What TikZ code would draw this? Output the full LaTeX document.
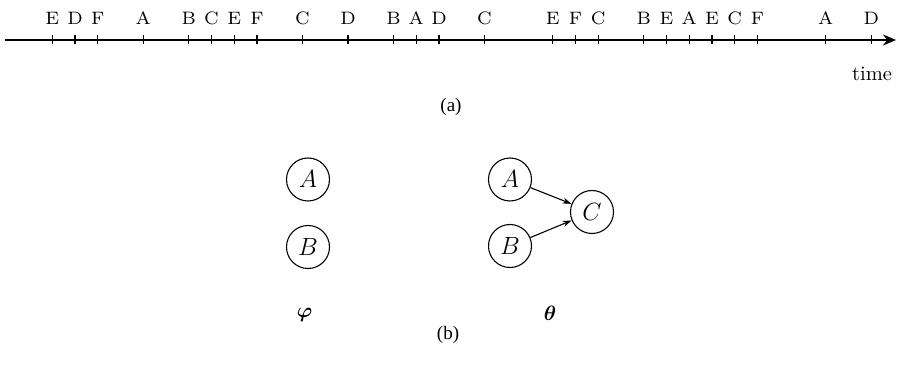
\documentclass[tikz,border=0pt]{standalone}
\usepackage{fontspec}
\usepackage{amsmath}
\usepackage{bm}
\newfontfamily\capfont{Liberation Serif}
\newfontfamily\lmseven{lmroman7-regular.otf}
\newfontfamily\lmten{lmroman10-regular.otf}
\usetikzlibrary{arrows.meta}
\begin{document}
\begin{tikzpicture}[x=1pt,y=-1pt,
  tlab/.style={font=\lmseven\fontsize{18}{20}\selectfont, inner sep=0pt, anchor=base},
  tickline/.style={line width=1.3pt},
  axis/.style={line width=2pt, -{Stealth[length=13pt,width=11pt]}},
  var/.style={circle, draw, line width=1.1pt, minimum size=43pt, inner sep=0pt, font=\fontsize{24.88}{28}\selectfont},
  edge/.style={line width=1.1pt, -{Stealth[length=9pt,width=6pt]}},
  captext/.style={font=\capfont\fontsize{19}{22}\selectfont, inner sep=0pt},
  greek/.style={font=\fontsize{20.74}{24}\selectfont, inner sep=0pt, anchor=base}]
\useasboundingbox (0,0) rectangle (903,366);
\coordinate (s) at (5,40);
\coordinate (e) at (896,40);
\draw[axis] (s) -- (e);
\foreach \k/\l [count=\i] in {0/E,1/D,2/F,4/A,6/B,7/C,8/E,9/F,11/C,13/D,15/B,16/A,17/D,19/C,22/E,23/F,24/C,26/B,27/E,28/A,29/E,30/C,31/F,34/A,36/D}{
  \coordinate (t\i) at ({52.3+22.75*\k},40);
  \draw[tickline] ([yshift=4.5pt]t\i) -- ([yshift=-4.5pt]t\i);
  \node[tlab] (l\i) at ({52.3+22.75*\k},24.5) {\l};
}
\node[font=\lmten\fontsize{20.5}{24}\selectfont, anchor=base, inner sep=0pt] (time) at (872,81) {time};
\node[captext] (capa) at (451,107) {(a)};
\node[var] (A1) at (308,179.5) {$A$};
\node[var] (B1) at (308,247) {$B$};
\node[var] (A2) at (510,179.5) {$A$};
\node[var] (B2) at (510,246) {$B$};
\node[var] (C2) at (592,212) {$C$};
\draw[edge] (A2) -- (C2);
\draw[edge] (B2) -- (C2);
\node[greek] (phi) at (304.5,318) {$\bm{\varphi}$};
\node[greek] (theta) at (550,320) {$\bm{\theta}$};
\node[captext] (capb) at (448,335) {(b)};
\end{tikzpicture}
\end{document}
